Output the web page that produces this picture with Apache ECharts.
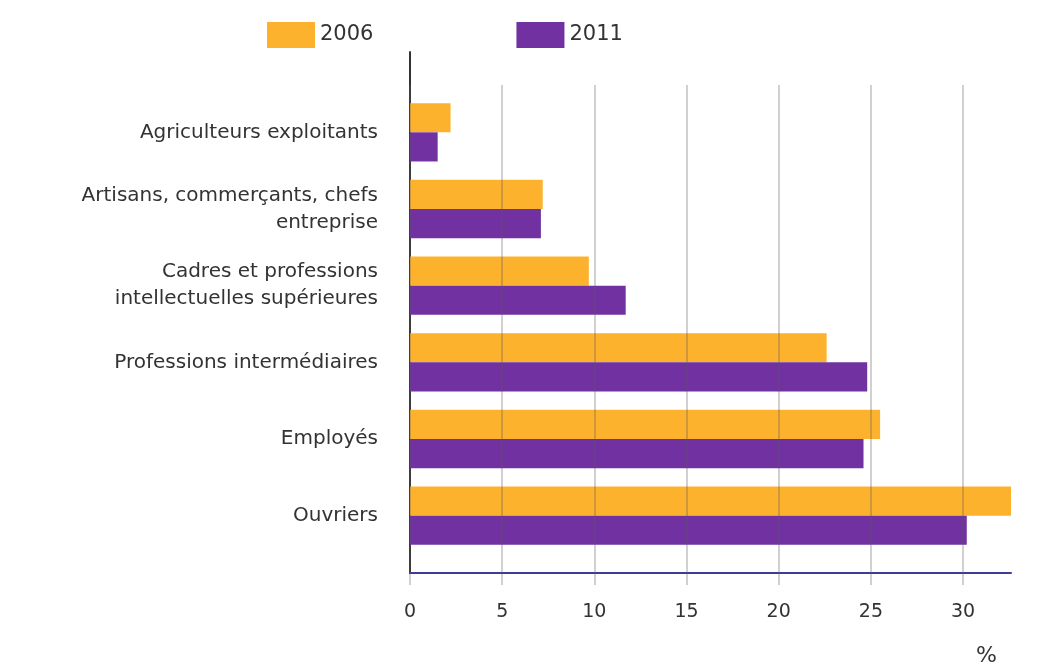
<!DOCTYPE html>
<html><head><meta charset="utf-8">
<script src="https://cdn.jsdelivr.net/npm/echarts@6/dist/echarts.min.js"></script>
<style>html,body{margin:0;padding:0;background:#fff}#c{width:1042px;height:667px}</style>
</head><body><div id="c"></div>
<script>
const categories = ["Agriculteurs exploitants", "Artisans, commerçants, chefs\nentreprise", "Cadres et professions\nintellectuelles supérieures", "Professions intermédiaires", "Employés", "Ouvriers"];
const values2006 = [2.2, 7.2, 9.7, 22.6, 25.5, 32.6];
const values2011 = [1.5, 7.1, 11.7, 24.8, 24.6, 30.2];
const seriesNames = ["2006", "2011"];
const axisMax = 32.6;

const font = "DejaVu Sans";
const chart = echarts.init(document.getElementById('c'));
chart.setOption({
  animation: false,
  textStyle: {fontFamily: font},
  color: ['#FDB22E', '#7131A0'],
  title: {text: '%', right: 40, top: 640, textStyle: {fontFamily: font, fontSize: 22, fontWeight: 'normal', color: '#333'}},
  legend: {
    data: seriesNames, left: 262, top: 17, itemWidth: 48, itemHeight: 26, itemGap: 143,
    icon: 'rect', textStyle: {fontFamily: font, fontSize: 21, color: '#333'}
  },
  grid: [
    {left: 410, right: 31, top: 52, bottom: 94},
    {left: 410, right: 31, top: 85, bottom: 82},
    {left: 410, right: 31, top: 94, bottom: 113}
  ],
  xAxis: [
    {gridIndex: 0, type: 'value', min: 0, max: axisMax, axisLine: {show: true, lineStyle: {color: '#3b3d99', width: 2}}, axisTick: {show: false}, axisLabel: {show: false}, splitLine: {show: false}},
    {gridIndex: 1, type: 'value', min: 0, max: axisMax, interval: 5, z: 5, axisLine: {show: false}, axisTick: {show: false},
      axisLabel: {show: true, margin: 18, fontSize: 19, color: '#333', showMaxLabel: false, fontFamily: font},
      splitLine: {show: true, showMaxLine: false, lineStyle: {color: 'rgba(90,90,90,0.38)', width: 1.5}}},
    {gridIndex: 2, type: 'value', min: 0, max: axisMax, show: false}
  ],
  yAxis: [
    {gridIndex: 0, type: 'value', axisLine: {show: true, lineStyle: {color: '#333', width: 2}}, axisTick: {show: false}, axisLabel: {show: false}, splitLine: {show: false}},
    {gridIndex: 1, type: 'value', show: false},
    {gridIndex: 2, type: 'category', data: categories, inverse: true, axisLine: {show: false}, axisTick: {show: false},
      axisLabel: {margin: 32, fontSize: 20, color: '#333', lineHeight: 27, align: 'right', fontFamily: font}}
  ],
  series: [
    {name: seriesNames[0], type: 'bar', xAxisIndex: 2, yAxisIndex: 2, data: values2006, barGap: '0%', barCategoryGap: '24%'},
    {name: seriesNames[1], type: 'bar', xAxisIndex: 2, yAxisIndex: 2, data: values2011, barGap: '0%', barCategoryGap: '24%'}
  ]
});
</script></body></html>
